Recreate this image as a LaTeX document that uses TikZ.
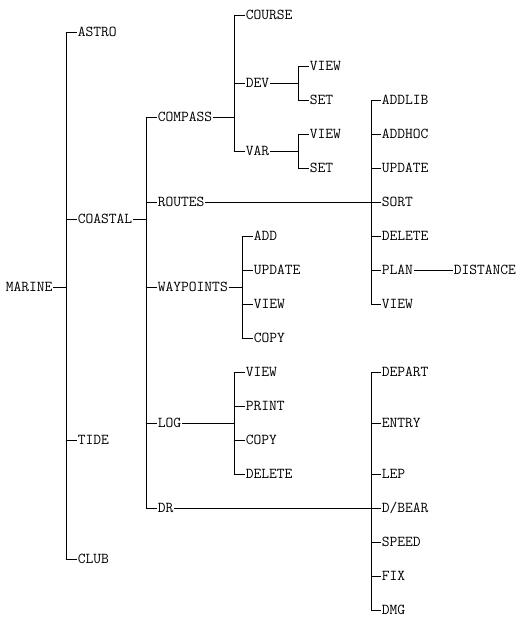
\documentclass[tikz,border=0pt]{standalone}
\usepackage{fontspec}
\begin{document}
\begin{tikzpicture}[x=1pt,y=-1pt,
  lbl/.style={anchor=west,inner sep=0.6pt,font=\ttfamily\fontsize{15.1}{16}\selectfont,text height=9pt,text depth=0pt},
  conn/.style={line width=0.9pt}]
\useasboundingbox[fill=white] (0,0) rectangle (527,625);
% level 0
\node[lbl] (marine) at (5,287) {MARINE};
% level 1
\node[lbl] (astro) at (77,32) {ASTRO};
\node[lbl] (coastal) at (77,219) {COASTAL};
\node[lbl] (tide) at (77,440) {TIDE};
\node[lbl] (club) at (77,559) {CLUB};
% level 2
\node[lbl] (compass) at (157,117) {COMPASS};
\node[lbl] (routes) at (157,202) {ROUTES};
\node[lbl] (waypoints) at (157,287) {WAYPOINTS};
\node[lbl] (log) at (157,423) {LOG};
\node[lbl] (dr) at (157,508) {DR};
% compass children
\node[lbl] (course) at (245,15) {COURSE};
\node[lbl] (dev) at (245,83) {DEV};
\node[lbl] (var) at (245,151) {VAR};
\node[lbl] (devview) at (309,66) {VIEW};
\node[lbl] (devset) at (309,100) {SET};
\node[lbl] (varview) at (309,134) {VIEW};
\node[lbl] (varset) at (309,168) {SET};
% routes children
\node[lbl] (addlib) at (381,100) {ADDLIB};
\node[lbl] (addhoc) at (381,134) {ADDHOC};
\node[lbl] (rupdate) at (381,168) {UPDATE};
\node[lbl] (sort) at (381,202) {SORT};
\node[lbl] (rdelete) at (381,236) {DELETE};
\node[lbl] (plan) at (381,270) {PLAN};
\node[lbl] (rview) at (381,304) {VIEW};
\node[lbl] (distance) at (453,270) {DISTANCE};
% waypoints children
\node[lbl] (wadd) at (253,236) {ADD};
\node[lbl] (wupdate) at (253,270) {UPDATE};
\node[lbl] (wview) at (253,304) {VIEW};
\node[lbl] (wcopy) at (253,338) {COPY};
% log children
\node[lbl] (lview) at (245,372) {VIEW};
\node[lbl] (lprint) at (245,406) {PRINT};
\node[lbl] (lcopy) at (245,440) {COPY};
\node[lbl] (ldelete) at (245,474) {DELETE};
% dr children
\node[lbl] (depart) at (381,372) {DEPART};
\node[lbl] (entry) at (381,423) {ENTRY};
\node[lbl] (lep) at (381,474) {LEP};
\node[lbl] (dbear) at (381,508) {D/BEAR};
\node[lbl] (speed) at (381,542) {SPEED};
\node[lbl] (fix) at (381,576) {FIX};
\node[lbl] (dmg) at (381,610) {DMG};
% junctions
\coordinate (jm) at (66,287);
\coordinate (jc) at (146,219);
\coordinate (jcp) at (234,117);
\coordinate (jdev) at (298,83);
\coordinate (jvar) at (298,151);
\coordinate (jr) at (371,202);
\coordinate (jw) at (242,287);
\coordinate (jl) at (234,423);
\coordinate (jd) at (371,508);
% connectors
\draw[conn] (marine.east) -- (jm);
\foreach \c in {astro,coastal,tide,club} \draw[conn] (jm) |- (\c.west);
\draw[conn] (coastal.east) -- (jc);
\foreach \c in {compass,routes,waypoints,log,dr} \draw[conn] (jc) |- (\c.west);
\draw[conn] (compass.east) -- (jcp);
\foreach \c in {course,dev,var} \draw[conn] (jcp) |- (\c.west);
\draw[conn] (dev.east) -- (jdev);
\foreach \c in {devview,devset} \draw[conn] (jdev) |- (\c.west);
\draw[conn] (var.east) -- (jvar);
\foreach \c in {varview,varset} \draw[conn] (jvar) |- (\c.west);
\draw[conn] (routes.east) -- (jr);
\foreach \c in {addlib,addhoc,rupdate,sort,rdelete,plan,rview} \draw[conn] (jr) |- (\c.west);
\draw[conn] (plan.east) -- (distance.west);
\draw[conn] (waypoints.east) -- (jw);
\foreach \c in {wadd,wupdate,wview,wcopy} \draw[conn] (jw) |- (\c.west);
\draw[conn] (log.east) -- (jl);
\foreach \c in {lview,lprint,lcopy,ldelete} \draw[conn] (jl) |- (\c.west);
\draw[conn] (dr.east) -- (jd);
\foreach \c in {depart,entry,lep,dbear,speed,fix,dmg} \draw[conn] (jd) |- (\c.west);
\end{tikzpicture}
\end{document}
